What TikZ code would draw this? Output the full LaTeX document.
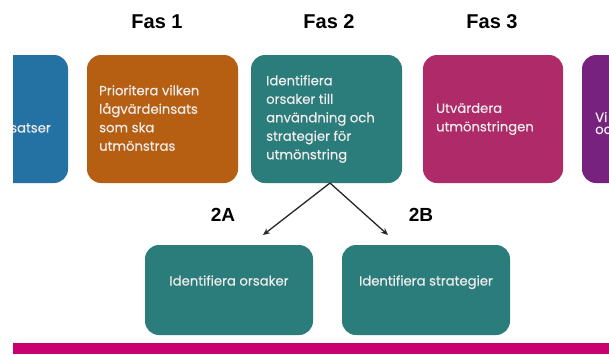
\documentclass[tikz,border=0pt]{standalone}
\usepackage{fontspec}
\setmainfont{Poppins}
\newfontfamily\boxfont[FakeBold=0.5]{Poppins}
\newfontfamily\titlefont{Liberation Sans}
\usetikzlibrary{arrows.meta}
\definecolor{cblue}{RGB}{36,114,164}
\definecolor{corange}{RGB}{182,94,18}
\definecolor{cteal}{RGB}{42,125,123}
\definecolor{cmag}{RGB}{174,42,104}
\definecolor{cpurp}{RGB}{118,34,126}
\definecolor{cbar}{RGB}{200,0,112}
\definecolor{ctxt}{RGB}{240,236,236}
\tikzset{
  phase/.style={rounded corners=14pt, draw=none},
  boxtext/.style={text=ctxt, font=\boxfont\fontsize{13.2}{18.5}\selectfont, align=left, anchor=west, inner sep=0pt},
  ctext/.style={text=ctxt, font=\boxfont\fontsize{13.2}{18.5}\selectfont, inner sep=0pt},
  title/.style={font=\titlefont\bfseries\fontsize{20}{24}\selectfont, inner sep=0pt},
  sublabel/.style={font=\titlefont\bfseries\fontsize{19}{22}\selectfont, inner sep=0pt},
  conn/.style={draw=black!85, line width=1.3pt, -{Stealth[length=7pt,width=6pt]}}
}
\begin{document}
\begin{tikzpicture}[x=1pt,y=-1pt]
\useasboundingbox (0,0) rectangle (609,354);
\begin{scope}
\clip (13,0) rectangle (609,354);
% boxes
\fill[cblue, rounded corners=14pt] (-100,55) rectangle (68,183);
\node[boxtext, anchor=east] (bluet) at (51,128) {satser};
\fill[corange, rounded corners=14pt] (87,55) rectangle (238,183);
\fill[cteal, rounded corners=14pt] (251,55) rectangle (402,183);
\fill[cmag, rounded corners=14pt] (423,55) rectangle (563,183);
\fill[cpurp, rounded corners=14pt] (582,55) rectangle (720,183);
\node[boxtext, font=\boxfont\fontsize{13.2}{12}\selectfont] (purpt) at (595,123) {Vi\\oc};
\fill[cbar] (13,343) rectangle (609,354);
\end{scope}
\node[boxtext] (orange) at (99,118) {Prioritera vilken\\lågvärdeinsats\\som ska\\utmönstras};
\node[boxtext] (teal) at (266,119) {Identifiera\\orsaker till\\användning och\\strategier för\\utmönstring};
\node[boxtext] (mag) at (436,119) {Utvärdera\\utmönstringen};
% titles
\node[title] (f1) at (157,22) {Fas 1};
\node[title] (f2) at (329,22) {Fas 2};
\node[title] (f3) at (492,22) {Fas 3};
% bottom boxes
\node[phase, fill=cteal, minimum width=168pt, minimum height=90pt] (a) at (229,290) {};
\node[phase, fill=cteal, minimum width=168pt, minimum height=90pt] (b) at (426,290) {};
\node[ctext, anchor=base] (at) at ([yshift=4.5pt]a.center) {Identifiera orsaker};
\node[ctext, anchor=base] (bt) at ([yshift=4.5pt]b.center) {Identifiera strategier};
\node[sublabel] (la) at (223,215) {2A};
\node[sublabel] (lb) at (421,215) {2B};
\coordinate (src) at (330,183);
\coordinate (ea) at (263,235);
\coordinate (eb) at (388,235);
\draw[conn] (src) -- (ea);
\draw[conn] (src) -- (eb);
\end{tikzpicture}
\end{document}
